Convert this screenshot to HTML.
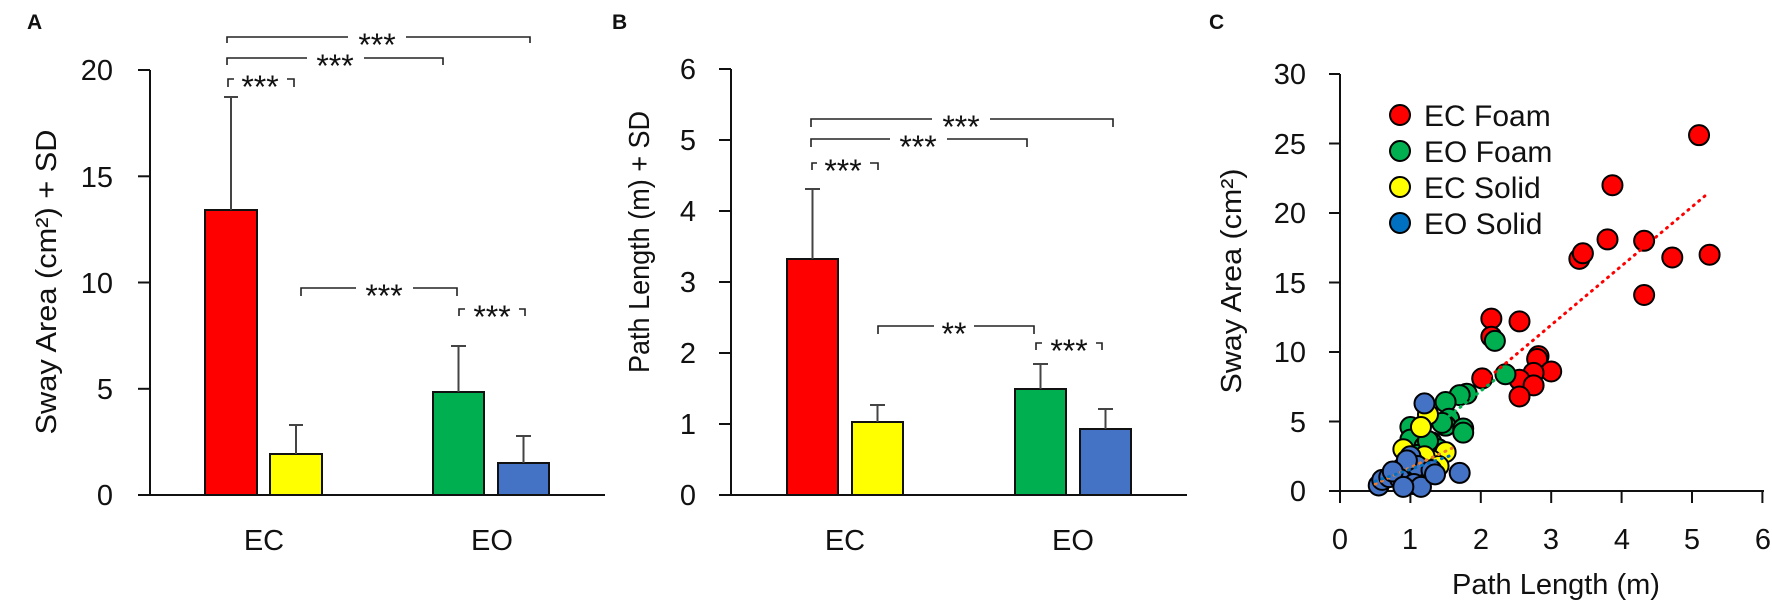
<!DOCTYPE html>
<html><head><meta charset="utf-8"><style>
html,body{margin:0;padding:0;background:#fff}
svg{display:block}
text{font-family:"Liberation Sans",sans-serif;fill:#111}
</style></head><body>
<svg id="s" width="1772" height="604" viewBox="0 0 1772 604" xmlns="http://www.w3.org/2000/svg">
<g stroke="#111" stroke-width="2" fill="none">
<line x1="150" y1="70" x2="150" y2="495"/>
<line x1="138" y1="495" x2="605" y2="495"/>
<line x1="138" y1="70" x2="150" y2="70"/><line x1="138" y1="176.3" x2="150" y2="176.3"/>
<line x1="138" y1="282.5" x2="150" y2="282.5"/><line x1="138" y1="388.8" x2="150" y2="388.8"/>
<line x1="731" y1="69" x2="731" y2="495"/>
<line x1="719" y1="495" x2="1187" y2="495"/>
<line x1="719" y1="69" x2="731" y2="69"/><line x1="719" y1="140" x2="731" y2="140"/>
<line x1="719" y1="211" x2="731" y2="211"/><line x1="719" y1="282" x2="731" y2="282"/>
<line x1="719" y1="353" x2="731" y2="353"/><line x1="719" y1="424" x2="731" y2="424"/>
<line x1="1340" y1="74" x2="1340" y2="503"/>
<line x1="1329" y1="491" x2="1764" y2="491"/>
</g>
<g id="cticks" stroke="#111" stroke-width="2"></g>

<g stroke="#111" stroke-width="2">
<rect x="205" y="210" width="52" height="285" fill="#ff0000"/>
<rect x="270" y="454" width="52" height="41" fill="#ffff00"/>
<rect x="433" y="392" width="51" height="103" fill="#00b050"/>
<rect x="498" y="463" width="51" height="32" fill="#4472c4"/>
<rect x="787" y="259" width="51" height="236" fill="#ff0000"/>
<rect x="852" y="422" width="51" height="73" fill="#ffff00"/>
<rect x="1015" y="389" width="51" height="106" fill="#00b050"/>
<rect x="1080" y="429" width="51" height="66" fill="#4472c4"/>
</g>
<g stroke="#444" stroke-width="2">
<path d="M231 210V97M224 97H238"/>
<path d="M296 454V425M289 425H303"/>
<path d="M458.5 392V346M451 346H466"/>
<path d="M523.5 463V436M516 436H531"/>
<path d="M812.5 259V189M805 189H820"/>
<path d="M877.5 422V405M870 405H885"/>
<path d="M1040.5 389V364M1033 364H1048"/>
<path d="M1105.5 429V409M1098 409H1113"/>
</g>

<g stroke="#222" stroke-width="1.6" fill="none">
<path d="M227 43V37H348M406 37H530V43"/>
<path d="M227 65V58H307M364 58H443V65"/>
<path d="M228 87V79H234M287 79H294V87"/>
<path d="M301 296V288H356M413 288H457V296"/>
<path d="M459 316V309H465M519 309H525V316"/>
<path d="M811 127V119H932M990 119H1113V127"/>
<path d="M811 147V139H890M947 139H1027V147"/>
<path d="M812 170V163H817M870 163H878V170"/>
<path d="M878 334V326H934M974 326H1034V334"/>
<path d="M1036 350V343H1042M1096 343H1102V350"/>
</g>
<g font-size="32" text-anchor="middle">
<text x="377" y="56">***</text>
<text x="335" y="77">***</text>
<text x="260" y="98">***</text>
<text x="384" y="307">***</text>
<text x="492" y="328">***</text>
<text x="961" y="138">***</text>
<text x="918" y="158">***</text>
<text x="843" y="182">***</text>
<text x="954" y="345">**</text>
<text x="1069" y="362">***</text>
</g>

<g font-size="29" text-anchor="end">
<text x="113" y="80">20</text><text x="113" y="187">15</text><text x="113" y="293">10</text>
<text x="113" y="399">5</text><text x="113" y="505">0</text>
<text x="696" y="79">6</text><text x="696" y="150">5</text><text x="696" y="221">4</text>
<text x="696" y="292">3</text><text x="696" y="363">2</text><text x="696" y="434">1</text><text x="696" y="505">0</text>
<text x="1306" y="84">30</text><text x="1306" y="154">25</text><text x="1306" y="223">20</text>
<text x="1306" y="293">15</text><text x="1306" y="362">10</text><text x="1306" y="432">5</text><text x="1306" y="501">0</text>
</g>
<g font-size="29" text-anchor="middle">
<text x="264" y="550">EC</text><text x="492" y="550">EO</text>
<text x="845" y="550">EC</text><text x="1073" y="550">EO</text>
<text x="1340" y="549">0</text><text x="1410" y="549">1</text><text x="1481" y="549">2</text>
<text x="1551" y="549">3</text><text x="1622" y="549">4</text><text x="1692" y="549">5</text><text x="1763" y="549">6</text>
<text x="1556" y="594">Path Length (m)</text>
</g>
<g font-size="29" text-anchor="middle">
<text transform="translate(56,282) rotate(-90)" textLength="305" lengthAdjust="spacingAndGlyphs">Sway Area (cm²) + SD</text>
<text transform="translate(649,242) rotate(-90)" textLength="262" lengthAdjust="spacingAndGlyphs">Path Length (m) + SD</text>
<text transform="translate(1241,281) rotate(-90)" textLength="225" lengthAdjust="spacingAndGlyphs">Sway Area (cm²)</text>
</g>
<g font-size="21" font-weight="bold">
<text x="27" y="29">A</text><text x="612" y="29">B</text><text x="1209" y="29">C</text>
</g>

<g id="tl" stroke-width="3" stroke-dasharray="1 6" stroke-linecap="round" fill="none"></g>
<g id="pts" stroke="#000" stroke-width="2"></g>

<g stroke="#000" stroke-width="2">
<circle cx="1400" cy="115" r="10" fill="#ff0000"/>
<circle cx="1400" cy="151" r="10" fill="#00b050"/>
<circle cx="1400" cy="187" r="10" fill="#ffff00"/>
<circle cx="1400" cy="223" r="10" fill="#0070c0"/>
</g>
<g font-size="30">
<text x="1424" y="126">EC Foam</text>
<text x="1424" y="162">EO Foam</text>
<text x="1424" y="198">EC Solid</text>
<text x="1424" y="234">EO Solid</text>
</g>
</svg>
<script>
(function(){
var NS="http://www.w3.org/2000/svg";
function X(v){return 1340+v*70.4;}
function Y(v){return 491-v*13.9;}
var ct=document.getElementById('cticks');
for(var i=0;i<=6;i++){var l=document.createElementNS(NS,'line');l.setAttribute('x1',X(i));l.setAttribute('x2',X(i));l.setAttribute('y1',491);l.setAttribute('y2',503);ct.appendChild(l);}
for(var j=0;j<=30;j+=5){var l2=document.createElementNS(NS,'line');l2.setAttribute('x1',1329);l2.setAttribute('x2',1340);l2.setAttribute('y1',Y(j));l2.setAttribute('y2',Y(j));ct.appendChild(l2);}
var tl=document.getElementById('tl');
function line(a,b,c,d,col){var l=document.createElementNS(NS,'line');l.setAttribute('x1',X(a));l.setAttribute('y1',Y(b));l.setAttribute('x2',X(c));l.setAttribute('y2',Y(d));l.setAttribute('stroke',col);tl.appendChild(l);}
var sets=[
["#ff0000",[[5.1,25.6],[3.87,22],[3.8,18.1],[4.32,18],[3.4,16.7],[3.45,17.1],[4.72,16.8],[5.25,17],[4.32,14.1],[2.15,12.4],[2.55,12.2],[2.15,11.1],[2.02,8.1],[2.82,9.7],[2.8,9.5],[3.0,8.6],[2.75,8.5],[2.55,8.0],[2.75,7.6],[2.55,6.8]]],
["#00b050",[[2.2,10.8],[2.35,8.4],[1.8,7.0],[1.7,6.9],[1.5,6.4],[1.55,5.2],[1.5,4.7],[1.75,4.5],[1.75,4.2],[1.0,4.6],[1.0,3.7],[1.3,3.5],[1.2,3.2],[1.4,3.0],[1.1,2.6],[1.25,3.6],[1.45,4.9]]],
["#ffff00",[[1.25,5.5],[1.15,4.6],[0.9,3.0],[1.5,2.8],[1.3,2.2],[1.2,2.5],[0.9,0.6],[0.85,1.5],[1.05,2.0],[1.4,1.8]]],
["#4472c4",[[1.2,6.3],[1.7,1.3],[0.55,0.4],[0.6,0.8],[0.7,1.0],[0.9,1.7],[0.85,0.9],[1.0,2.5],[1.1,1.8],[1.3,1.5],[1.05,0.5],[1.15,0.3],[0.95,2.2],[0.75,1.4],[1.35,1.2],[0.9,0.3]]]
];
var g=document.getElementById('pts');
sets.forEach(function(s){s[1].forEach(function(p){var c=document.createElementNS(NS,'circle');c.setAttribute('cx',X(p[0]));c.setAttribute('cy',Y(p[1]));c.setAttribute('r',10);c.setAttribute('fill',s[0]);g.appendChild(c);});});
line(2.05,7.9,5.2,21.3,'#ff0000');
line(1.55,5.4,2.2,8.0,'#00b050');
line(0.5,0.5,1.6,3.1,'#ed7d31');
line(0.5,0.7,1.6,2.6,'#0070c0');
tl.parentNode.appendChild(tl);
})();
</script>
</body></html>
